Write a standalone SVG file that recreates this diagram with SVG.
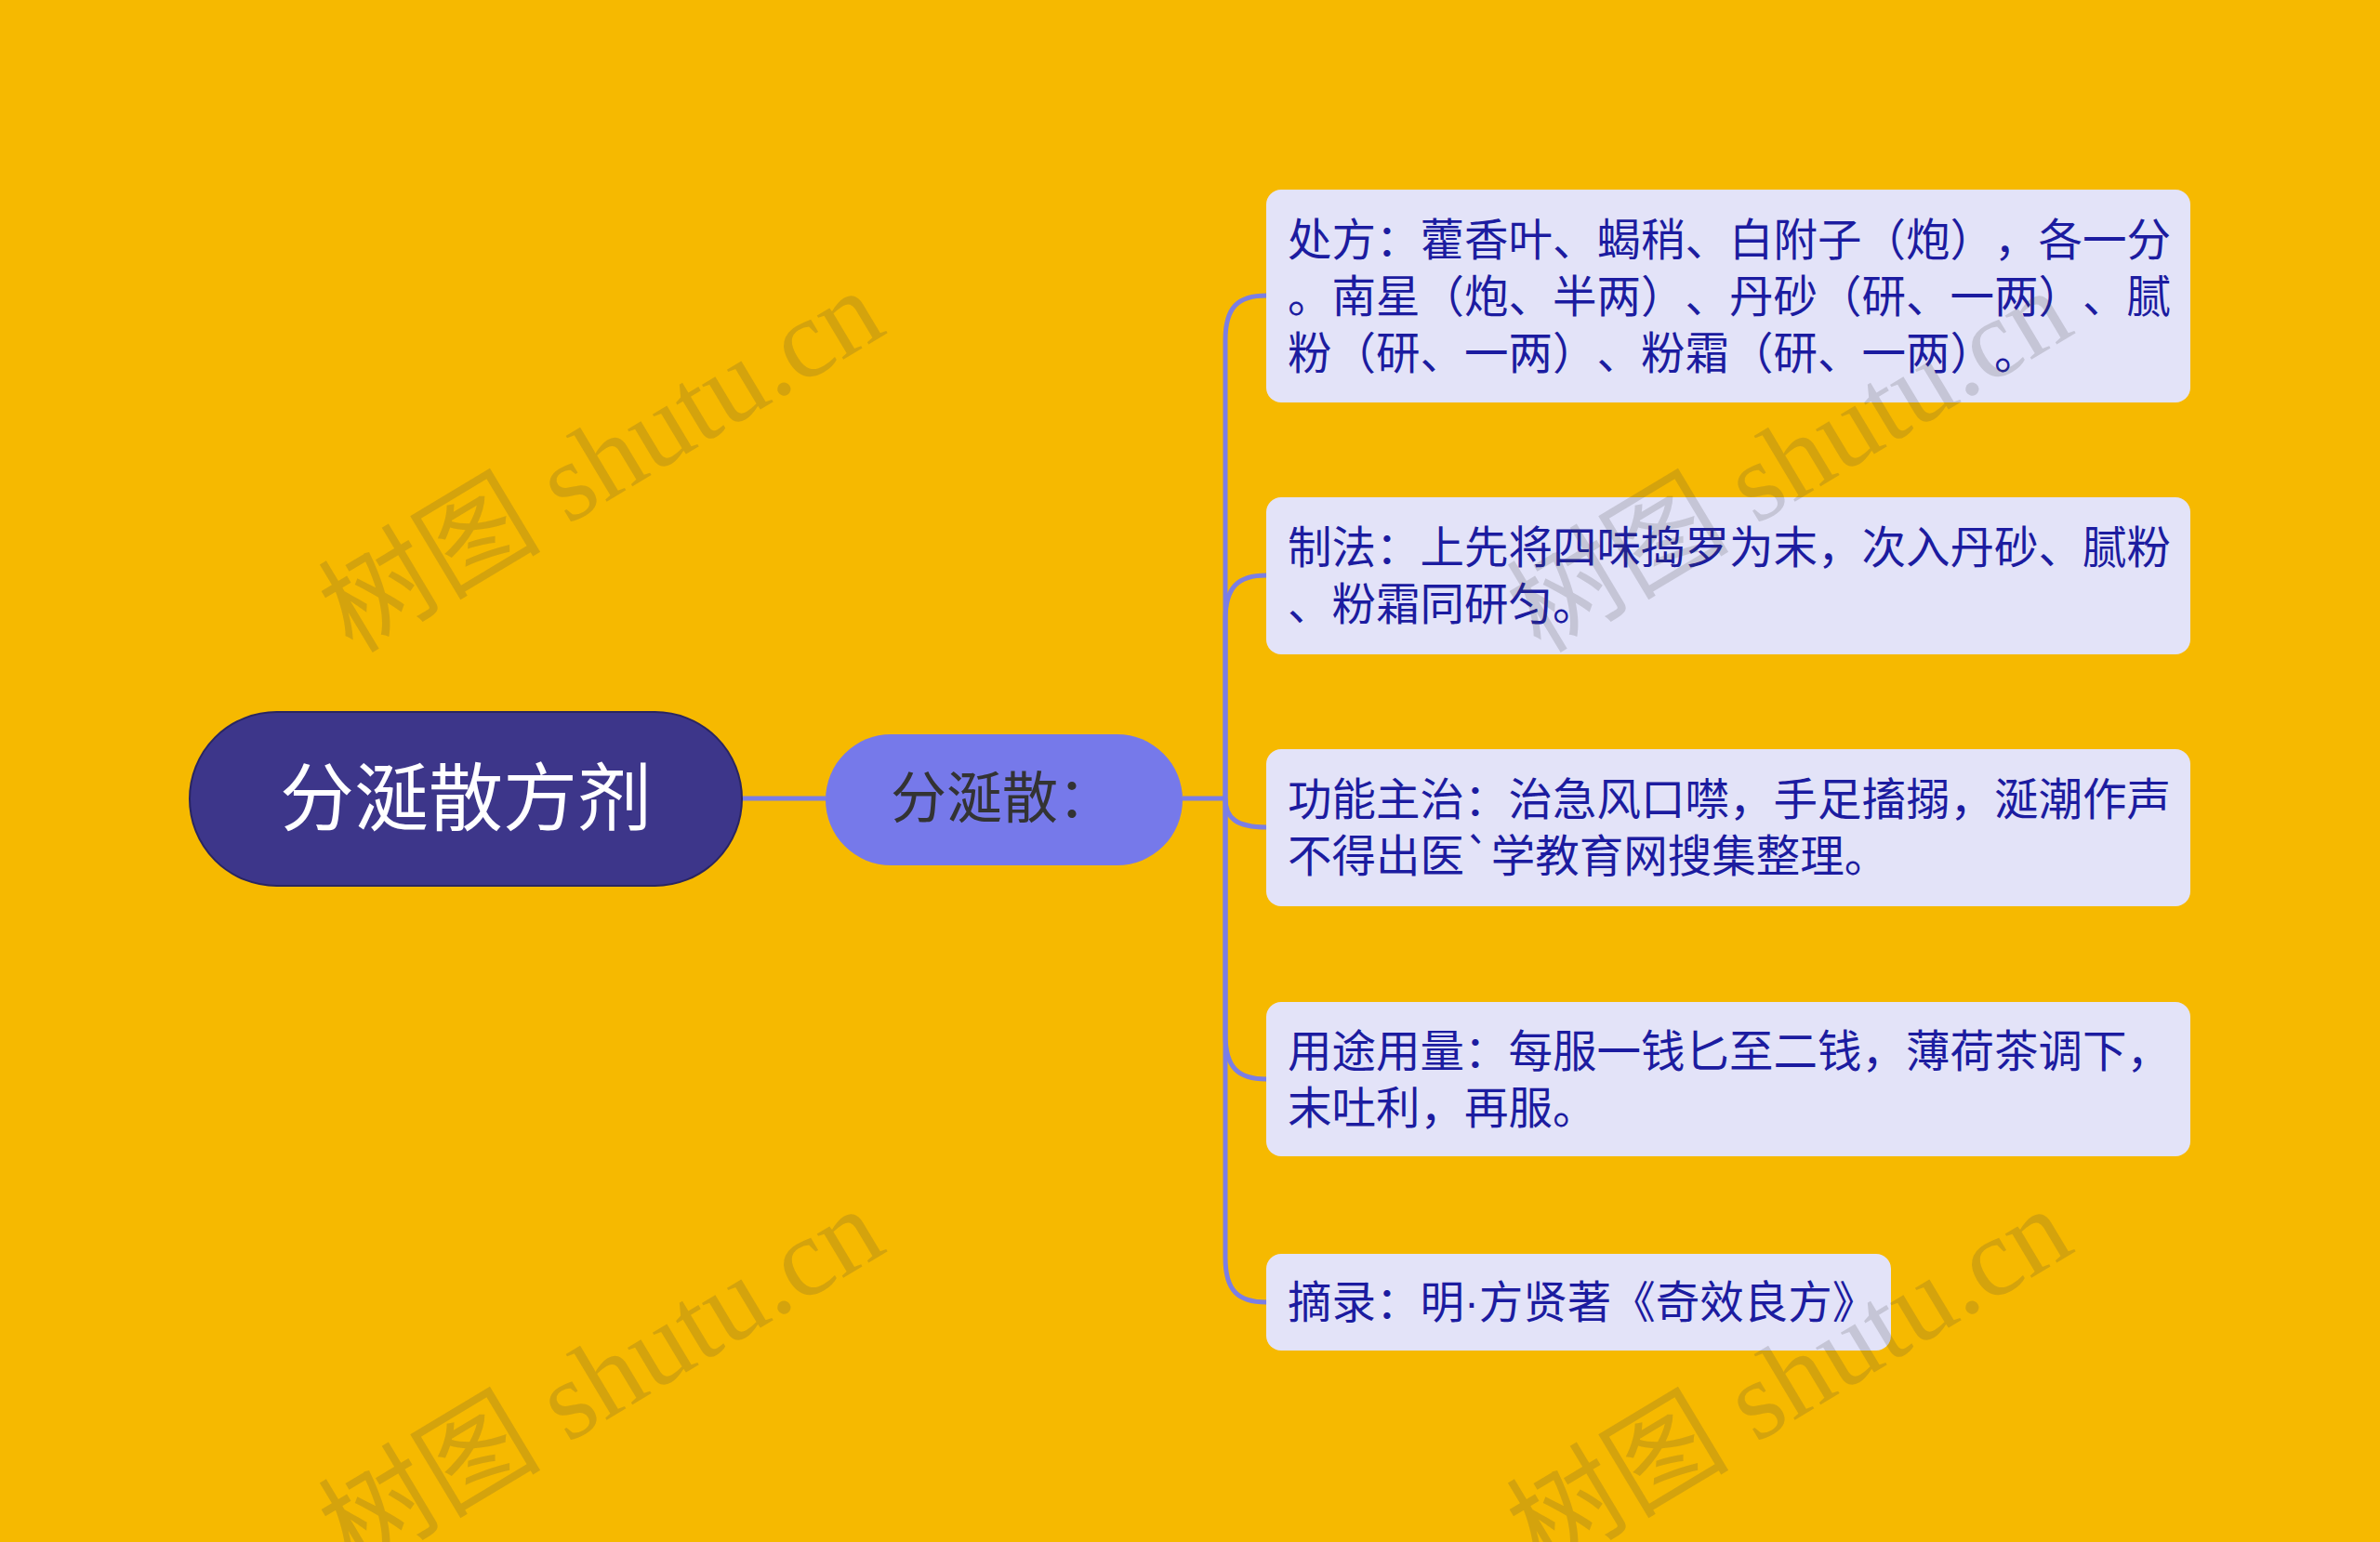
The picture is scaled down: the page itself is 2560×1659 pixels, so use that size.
<svg xmlns="http://www.w3.org/2000/svg" width="2560" height="1659" viewBox="0 0 2560 1659">
<style>
.bg{fill:#f6b900}
.box{fill:#e3e3f8}
.t{font-family:"Noto Sans CJK SC","Noto Sans",sans-serif;font-size:47.5px;fill:#1c1ca0;text-spacing-trim:space-all}
.wm{font-family:"Liberation Serif","Noto Sans CJK SC",serif;font-size:120px;fill:#444444;fill-opacity:0.19}
.conn{fill:none;stroke:#7b7ee4;stroke-width:5}
.dot{font-family:"Liberation Sans",sans-serif}
</style>
<rect class="bg" x="0" y="0" width="2560" height="1659"/>
<g id="connectors">
<path class="conn" d="M798 859 H888"/>
<path class="conn" d="M1272 859 H1318"/>
<path class="conn" d="M1318 859 V366 C1318 330 1332 318 1362 318"/>
<path class="conn" d="M1318 859 V667 C1318 631 1332 619 1362 619"/>
<path class="conn" d="M1318 859 C1318 880 1330 890 1362 890"/>
<path class="conn" d="M1318 859 V1113 C1318 1149 1332 1161 1362 1161"/>
<path class="conn" d="M1318 859 V1353 C1318 1389 1332 1401 1362 1401"/>
</g>
<g id="root">
<rect x="204" y="766" width="594" height="187" rx="93.5" fill="#3d368a" stroke="#2a2560" stroke-width="2"/>
<text x="501" y="887" text-anchor="middle" font-family="Noto Sans CJK SC, Noto Sans, sans-serif" font-size="80" fill="#ffffff">分涎散方剂</text>
</g>
<g id="sub">
<rect x="888" y="790" width="384" height="141" rx="70.5" fill="#7679ea"/>
<text x="958" y="880" font-family="Noto Sans CJK SC, Noto Sans, sans-serif" font-size="60" fill="#333333">分涎散：</text>
</g>
<g id="n1">
<rect class="box" x="1362" y="204" width="994" height="229" rx="16"/>
<text class="t" x="1385" y="275">处方：藿香叶、蝎稍、白附子（炮），各一分</text>
<text class="t" x="1385" y="336">。南星（炮、半两）、丹砂（研、一两）、腻</text>
<text class="t" x="1385" y="397">粉（研、一两）、粉霜（研、一两）。</text>
</g>
<g id="n2">
<rect class="box" x="1362" y="535" width="994" height="169" rx="16"/>
<text class="t" x="1385" y="606">制法：上先将四味捣罗为末，次入丹砂、腻粉</text>
<text class="t" x="1385" y="667">、粉霜同研匀。</text>
</g>
<g id="n3">
<rect class="box" x="1362" y="806" width="994" height="169" rx="16"/>
<text class="t" x="1385" y="877">功能主治：治急风口噤，手足搐搦，涎潮作声</text>
<text class="t" x="1385" y="938">不得出医`学教育网搜集整理。</text>
</g>
<g id="n4">
<rect class="box" x="1362" y="1078" width="994" height="166" rx="16"/>
<text class="t" x="1385" y="1148">用途用量：每服一钱匕至二钱，薄荷茶调下，</text>
<text class="t" x="1385" y="1209">末吐利，再服。</text>
</g>
<g id="n5">
<rect class="box" x="1362" y="1349" width="672" height="104" rx="16"/>
<text class="t" x="1385" y="1418">摘录：明<tspan class="dot">·</tspan>方贤著《奇效良方》</text>
</g>
<g id="watermarks">
<text class="wm" transform="translate(379,704) rotate(-31)">树图 shutu.cn</text>
<text class="wm" transform="translate(1657,704) rotate(-31)">树图 shutu.cn</text>
<text class="wm" transform="translate(379,1692) rotate(-31)">树图 shutu.cn</text>
<text class="wm" transform="translate(1657,1692) rotate(-31)">树图 shutu.cn</text>
</g>
</svg>
